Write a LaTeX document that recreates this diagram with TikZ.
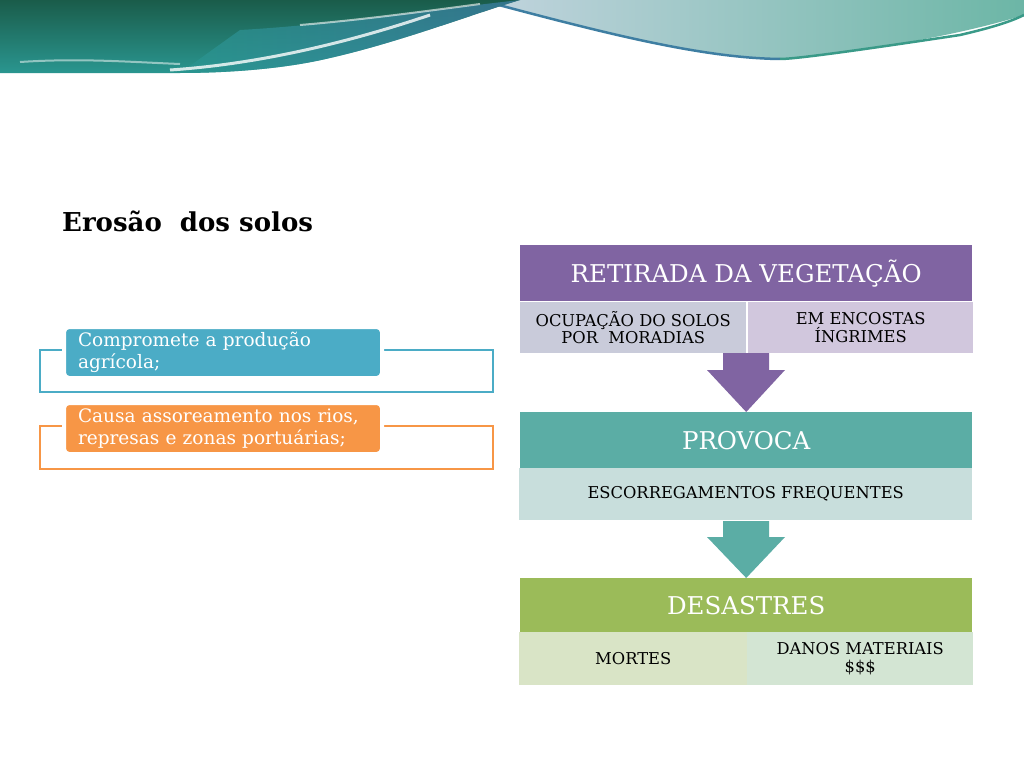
\documentclass[tikz,border=0pt]{standalone}
\usepackage{fontspec}
\setmainfont{DejaVu Serif}
\usetikzlibrary{calc}
\begin{document}
\begin{tikzpicture}[x=1pt,y=-1pt,
  hdr/.style={fill=#1,draw=none,text=white,font=\fontsize{24.5}{26}\selectfont,align=center,inner sep=0pt},
  cell/.style={fill=#1,draw=none,text=black,font=\fontsize{16.3}{17.5}\selectfont,align=center,inner sep=0pt},
  tagbox/.style={fill=#1,draw=white,line width=4pt,rounded corners=5pt,text=white,font=\fontsize{18.5}{22}\selectfont,align=left,inner sep=0pt},
  frame/.style={draw=#1,line width=1.5pt},
  bigarrow/.style={fill=#1,draw=none}
]
\definecolor{aqua}{HTML}{4BACC6}
\definecolor{orng}{HTML}{F79646}
\definecolor{purp}{HTML}{8064A2}
\definecolor{purpA}{HTML}{C9CBDA}
\definecolor{purpB}{HTML}{D1C7DD}
\definecolor{teal}{HTML}{5BADA5}
\definecolor{tealA}{HTML}{C8DEDC}
\definecolor{grn}{HTML}{9BBB59}
\definecolor{grnA}{HTML}{D9E4C6}
\definecolor{grnB}{HTML}{D3E5D3}
\definecolor{wdark}{HTML}{1A5C4A}
\definecolor{wmid}{HTML}{2A9690}
\definecolor{wblue}{HTML}{3F7FA8}
\definecolor{wlight}{HTML}{C2D4DE}
\definecolor{wgreen}{HTML}{6CB6A6}
\definecolor{wedge}{HTML}{3E7EA2}
\definecolor{wedgeg}{HTML}{3A9A88}
\useasboundingbox (0,0) rectangle (1024,768);
\fill[white] (0,0) rectangle (1024,768);
% banner right
\shade[left color=wlight,right color=wgreen] (480,0) -- (1024,0) -- (1024,15) .. controls (960,35) and (880,48) .. (800,58) .. controls (720,62) and (600,32) .. (480,0) -- cycle;
\draw[wedge,line width=2.5pt] (480,0) .. controls (600,32) and (700,58) .. (780,59);
\draw[wedgeg,line width=2.5pt] (780,59) .. controls (800,59) and (900,44) .. (960,35) .. controls (990,28) and (1010,22) .. (1024,15);
% banner left
\shade[top color=wdark,bottom color=wmid] (0,0) -- (520,0) .. controls (470,15) and (400,42) .. (330,58) .. controls (280,70) and (220,73) .. (180,73) -- (0,73) -- cycle;
\shade[left color=wmid,right color=wblue,opacity=0.7] (240,30) .. controls (330,25) and (430,10) .. (520,0) .. controls (470,15) and (400,42) .. (330,58) .. controls (280,70) and (220,73) .. (180,73) -- cycle;
\draw[white,line width=3pt,opacity=0.8] (170,70) .. controls (260,64) and (350,42) .. (430,15);
\draw[white,line width=2pt,opacity=0.6] (300,25) .. controls (360,20) and (420,12) .. (480,4);
\draw[white,line width=2pt,opacity=0.5] (20,62) .. controls (80,58) and (130,62) .. (180,64);
% title
\node[anchor=base west,inner sep=0pt,font=\fontsize{26}{28}\selectfont\bfseries] (title) at (62,231) {Erosão\ \ dos solos};
% left boxes
\draw[frame=aqua] (40,350) rectangle (493,392);
\node[tagbox=aqua,minimum width=318pt,minimum height=51pt,text width=290pt,anchor=north west] (t1) at (62,325) {Compromete a produção\\agrícola;};
\draw[frame=orng] (40,426) rectangle (493,469);
\node[tagbox=orng,minimum width=318pt,minimum height=51pt,text width=290pt,anchor=north west] (t2) at (62,401) {Causa assoreamento nos rios,\\represas e zonas portuárias;};
% right column
\node[hdr=purp,minimum width=452pt,minimum height=56pt,anchor=north west] (h1) at (520,245) {RETIRADA DA VEGETAÇÃO};
\node[cell=purpA,minimum width=226pt,minimum height=51pt,anchor=north west] (c1a) at (520,302) {OCUPAÇÃO DO SOLOS\\POR\ \ MORADIAS};
\node[cell=purpB,minimum width=225pt,minimum height=51pt,anchor=north west] (c1b) at (748,302) {EM ENCOSTAS\\ÍNGRIMES};
\node[hdr=teal,minimum width=452pt,minimum height=56pt,anchor=north west] (h2) at (520,412) {PROVOCA};
\node[cell=tealA,minimum width=453pt,minimum height=52pt,anchor=north west] (c2) at (519,468) {ESCORREGAMENTOS FREQUENTES};
\node[hdr=grn,minimum width=452pt,minimum height=54pt,anchor=north west] (h3) at (520,578) {DESASTRES};
\node[cell=grnA,minimum width=228pt,minimum height=53pt,anchor=north west] (c3a) at (519,632) {MORTES};
\node[cell=grnB,minimum width=226pt,minimum height=53pt,anchor=north west] (c3b) at (747,632) {DANOS MATERIAIS\\\$\$\$};
% arrows
\coordinate (a1) at (746,353);
\coordinate (a2) at (746,521);
\fill[bigarrow=purp] ($(a1)+(-23,0)$) -- ($(a1)+(23,0)$) -- ($(a1)+(23,17)$) -- ($(a1)+(39,17)$) -- (h1.center |- h2.north) -- ($(a1)+(-39,17)$) -- ($(a1)+(-23,17)$) -- cycle;
\fill[bigarrow=teal] ($(a2)+(-23,0)$) -- ($(a2)+(23,0)$) -- ($(a2)+(23,16)$) -- ($(a2)+(39,16)$) -- (h2.center |- h3.north) -- ($(a2)+(-39,16)$) -- ($(a2)+(-23,16)$) -- cycle;
\end{tikzpicture}
\end{document}
